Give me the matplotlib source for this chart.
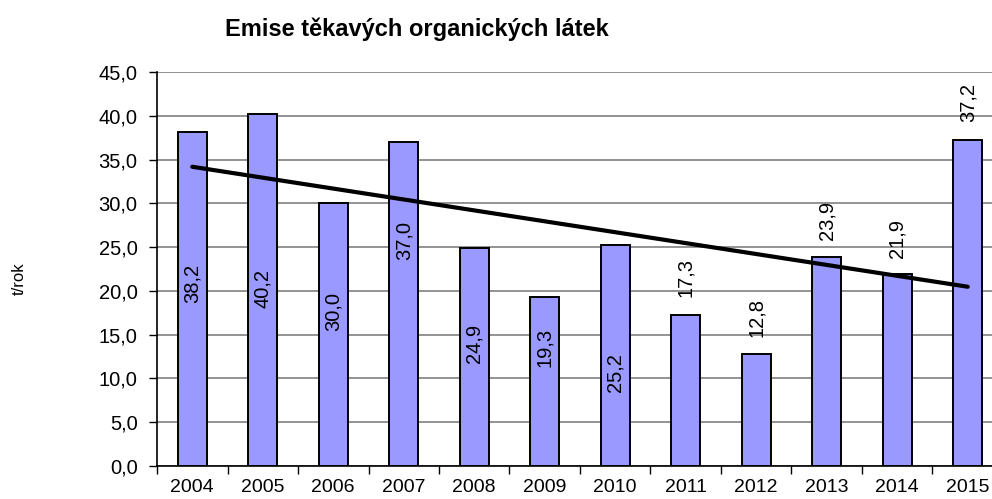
import matplotlib
matplotlib.use("Agg")
import matplotlib.pyplot as plt
import numpy as np

plt.rcParams["font.family"] = ["Liberation Sans", "DejaVu Sans"]

years = ["2004", "2005", "2006", "2007", "2008", "2009",
         "2010", "2011", "2012", "2013", "2014", "2015"]
emissions = [38.2, 40.2, 30.0, 37.0, 24.9, 19.3, 25.2, 17.3, 12.8, 23.9, 21.9, 37.2]
# where the value labels sit (centre, in t/rok), as placed in the original
label_y = [20.8, 20.3, 17.6, 25.8, 14.0, 13.5, 10.7, 21.5, 17.0, 28.1, 26.0, 41.5]

title = "Emise těkavých organických látek"
ylabel = "t/rok"

fig = plt.figure(figsize=(9.92, 4.99), dpi=100)
ax = fig.add_axes([157 / 992, 1 - 466 / 499, 846 / 992, 394 / 499])

x = np.arange(len(years))
ax.bar(x, emissions, width=0.41, color="#9999FF", edgecolor="black",
       linewidth=1.4, zorder=3)

# linear trend
k, q = np.polyfit(x, emissions, 1)
ax.plot(x, k * x + q, color="black", linewidth=3, solid_capstyle="round", zorder=4)

for xi, v, ly in zip(x, emissions, label_y):
    ax.text(xi, ly, f"{v:.1f}".replace(".", ","), rotation=90,
            ha="center", va="center", fontsize=14.5, zorder=5)

ax.set_xlim(-0.5, len(years) - 0.5)
ax.set_ylim(0, 45)
ax.set_yticks(np.arange(0, 46, 5))
ax.set_yticklabels([f"{t:.1f}".replace(".", ",") for t in np.arange(0, 46, 5)],
                   fontsize=14.5)
ax.tick_params(axis="y", direction="out", length=6, width=1, pad=8)

ax.set_xticks(np.arange(-0.5, len(years), 1))
ax.set_xticklabels([])
ax.set_xticks(x, minor=True)
ax.set_xticklabels(years, minor=True, fontsize=14)
ax.tick_params(axis="x", which="major", direction="out", length=6, width=1)
ax.tick_params(axis="x", which="minor", length=0, pad=9)

ax.grid(axis="y", color="#808080", linewidth=1.2, zorder=0)
ax.set_axisbelow(True)
for s in ["top", "right"]:
    ax.spines[s].set_visible(False)
ax.spines["left"].set_linewidth(1.2)
ax.spines["bottom"].set_linewidth(1.2)

fig.text(417 / 992, 1 - 29 / 499, title, ha="center", va="center",
         fontsize=17, fontweight="bold")
fig.text(19 / 992, 1 - 279 / 499, ylabel, rotation=90, ha="center",
         va="center", fontsize=12)

fig.savefig("out.png", dpi=100)
